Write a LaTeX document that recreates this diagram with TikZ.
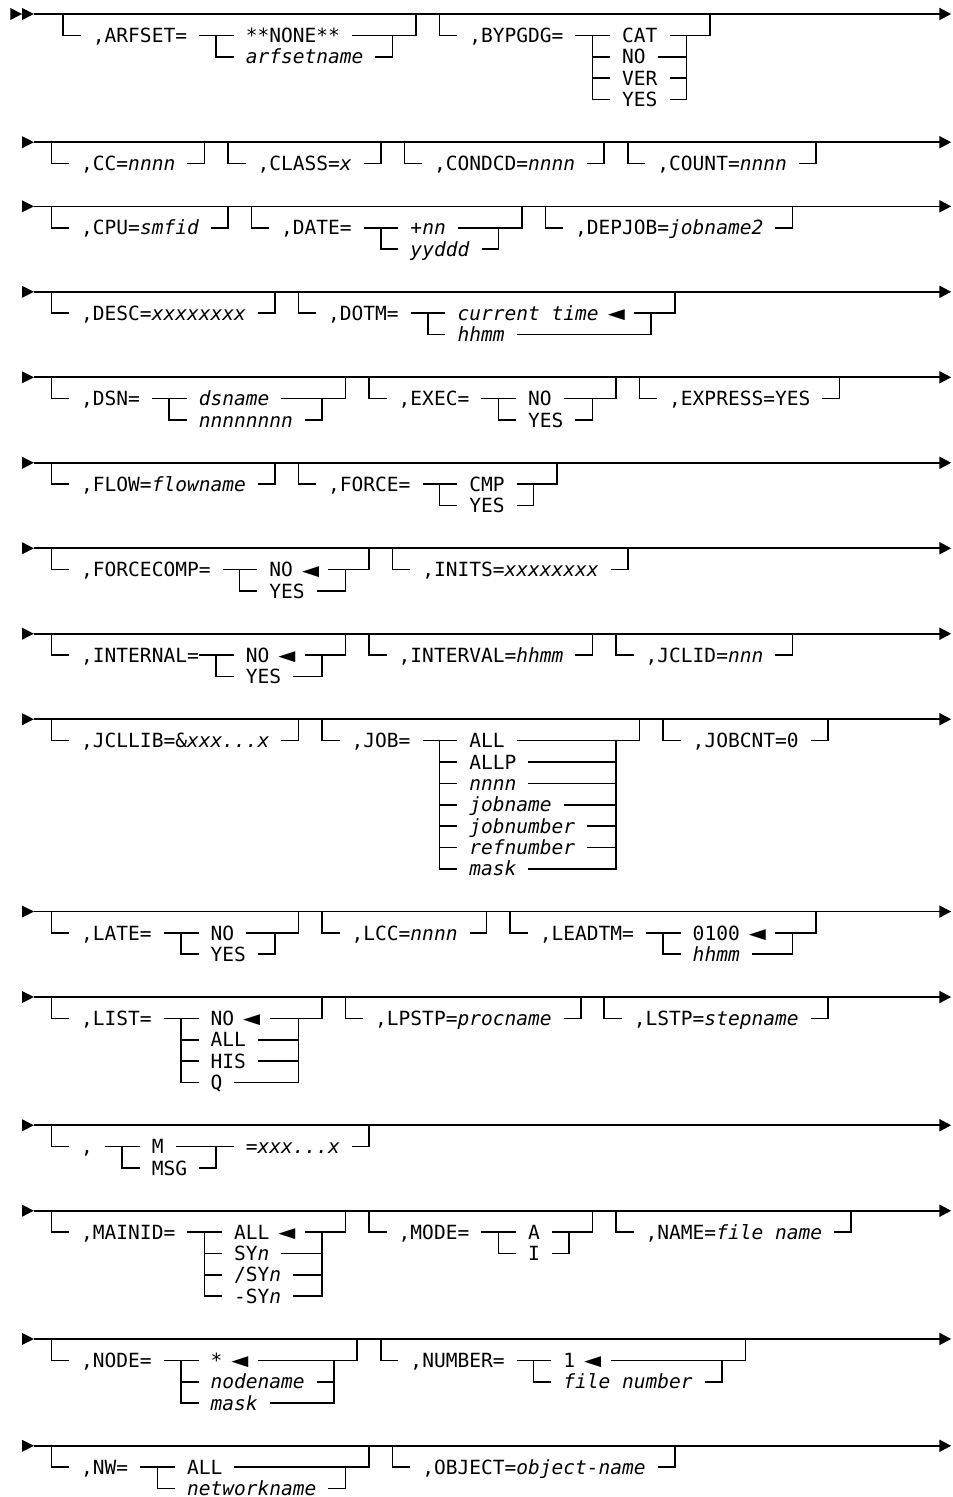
\documentclass[tikz,border=0pt]{standalone}
\usepackage{fontspec}
\usepackage{graphicx}
\usepackage{tikz}
\usetikzlibrary{arrows.meta}
\newfontfamily\railfont{DejaVu Sans Mono}[ItalicFont={DejaVu Sans Mono Oblique}]
\newcommand{\defmark}{\makebox[0.602em]{\raisebox{-0.12em}{\scalebox{1.45}{◄}}}}

\begin{document}
\begin{tikzpicture}[
  x=0.294cm, y=-0.53425cm,
  every node/.style={
    anchor=west,
    font=\railfont\fontsize{13.894pt}{16pt}\selectfont,
    inner xsep=0.294cm,
    inner ysep=0pt,
    text height=10.13pt,
    text depth=0pt
  },
  rail/.style={line width=0.04cm},
  mainline/.style={line width=0.04cm, -{Triangle[length=0.294cm,width=0.3cm]}}
]
\useasboundingbox (-2.381,-0.655) rectangle (78.571,69.396);

% ARFSET / BYPGDG
\coordinate (l0s) at (0.5,0);  \coordinate (l0e) at (78.5,0);
\coordinate (arf-in) at (3,0);  \coordinate (arf-out) at (33,0);
\coordinate (arf-l) at (16,1);  \coordinate (arf-r) at (31,1);
\coordinate (byp-in) at (35,0); \coordinate (byp-out) at (58,0);
\coordinate (byp-l) at (48,1);  \coordinate (byp-r) at (56,1);

\node (arfset) at (4.5,1) {,ARFSET=};
\node (arfnone) at (17.5,1) {**NONE**};
\node (arfname) at (17.5,2) {\textit{arfsetname}};
\node (bypgdg) at (36.5,1) {,BYPGDG=};
\node (bypcat) at (49.5,1) {CAT};
\node (bypno) at (49.5,2) {NO};
\node (bypver) at (49.5,3) {VER};
\node (bypyes) at (49.5,4) {YES};

\fill (l0s) -- ++(-1,-0.28) -- ++(0,0.56) -- cycle;
\fill ([xshift=-0.294cm]l0s) -- ++(-1,-0.28) -- ++(0,0.56) -- cycle;
\draw[mainline] (l0s) -- (l0e);
\draw[rail] (arf-in) |- (arfset.west) (arfset.east) -- (arfnone.west) (arfnone.east) -| (arf-out);
\draw[rail] (arf-l) |- (arfname.west) (arfname.east) -| (arf-r);
\draw[rail] (byp-in) |- (bypgdg.west) (bypgdg.east) -- (bypcat.west) (bypcat.east) -| (byp-out);
\draw[rail] (byp-l) |- (bypno.west) (bypno.east) -| (byp-r);
\draw[rail] (byp-l) |- (bypver.west) (bypver.east) -| (byp-r);
\draw[rail] (byp-l) |- (bypyes.west) (bypyes.east) -| (byp-r);

% CC / CLASS / CONDCD / COUNT
\coordinate (l6s) at (0.5,6);  \coordinate (l6e) at (78.5,6);
\coordinate (cc-in) at (2,6);  \coordinate (cc-out) at (15,6);
\coordinate (class-in) at (17,6);  \coordinate (class-out) at (30,6);
\coordinate (cond-in) at (32,6);  \coordinate (cond-out) at (49,6);
\coordinate (count-in) at (51,6);  \coordinate (count-out) at (67,6);

\node (cc) at (3.5,7) {,CC=\textit{nnnn}};
\node (class) at (18.5,7) {,CLASS=\textit{x}};
\node (condcd) at (33.5,7) {,CONDCD=\textit{nnnn}};
\node (count) at (52.5,7) {,COUNT=\textit{nnnn}};

\fill (l6s) -- ++(-1,-0.28) -- ++(0,0.56) -- cycle;
\draw[mainline] (l6s) -- (l6e);
\draw[rail] (cc-in) |- (cc.west) (cc.east) -| (cc-out);
\draw[rail] (class-in) |- (class.west) (class.east) -| (class-out);
\draw[rail] (cond-in) |- (condcd.west) (condcd.east) -| (cond-out);
\draw[rail] (count-in) |- (count.west) (count.east) -| (count-out);

% CPU / DATE / DEPJOB
\coordinate (l9s) at (0.5,9);  \coordinate (l9e) at (78.5,9);
\coordinate (cpu-in) at (2,9);  \coordinate (cpu-out) at (17,9);
\coordinate (date-in) at (19,9);  \coordinate (date-out) at (42,9);
\coordinate (date-l) at (30,10);  \coordinate (date-r) at (40,10);
\coordinate (dep-in) at (44,9);  \coordinate (dep-out) at (65,9);

\node (cpu) at (3.5,10) {,CPU=\textit{smfid}};
\node (date) at (20.5,10) {,DATE=};
\node (datenn) at (31.5,10) {\textit{+nn}};
\node (dateyy) at (31.5,11) {\textit{yyddd}};
\node (depjob) at (45.5,10) {,DEPJOB=\textit{jobname2}};

\fill (l9s) -- ++(-1,-0.28) -- ++(0,0.56) -- cycle;
\draw[mainline] (l9s) -- (l9e);
\draw[rail] (cpu-in) |- (cpu.west) (cpu.east) -| (cpu-out);
\draw[rail] (date-in) |- (date.west) (date.east) -- (datenn.west) (datenn.east) -| (date-out);
\draw[rail] (date-l) |- (dateyy.west) (dateyy.east) -| (date-r);
\draw[rail] (dep-in) |- (depjob.west) (depjob.east) -| (dep-out);

% DESC / DOTM
\coordinate (l13s) at (0.5,13);  \coordinate (l13e) at (78.5,13);
\coordinate (desc-in) at (2,13);  \coordinate (desc-out) at (21,13);
\coordinate (dotm-in) at (23,13);  \coordinate (dotm-out) at (55,13);
\coordinate (dotm-l) at (34,14);  \coordinate (dotm-r) at (53,14);

\node (desc) at (3.5,14) {,DESC=\textit{xxxxxxxx}};
\node (dotm) at (24.5,14) {,DOTM=};
\node (dotmcur) at (35.5,14) {\textit{current time} \defmark};
\node (dotmhh) at (35.5,15) {\textit{hhmm}};

\fill (l13s) -- ++(-1,-0.28) -- ++(0,0.56) -- cycle;
\draw[mainline] (l13s) -- (l13e);
\draw[rail] (desc-in) |- (desc.west) (desc.east) -| (desc-out);
\draw[rail] (dotm-in) |- (dotm.west) (dotm.east) -- (dotmcur.west) (dotmcur.east) -| (dotm-out);
\draw[rail] (dotm-l) |- (dotmhh.west) (dotmhh.east) -| (dotm-r);

% DSN / EXEC / EXPRESS
\coordinate (l17s) at (0.5,17);  \coordinate (l17e) at (78.5,17);
\coordinate (dsn-in) at (2,17);  \coordinate (dsn-out) at (27,17);
\coordinate (dsn-l) at (12,18);  \coordinate (dsn-r) at (25,18);
\coordinate (exec-in) at (29,17);  \coordinate (exec-out) at (50,17);
\coordinate (exec-l) at (40,18);  \coordinate (exec-r) at (48,18);
\coordinate (expr-in) at (52,17);  \coordinate (expr-out) at (69,17);

\node (dsn) at (3.5,18) {,DSN=};
\node (dsnname) at (13.5,18) {\textit{dsname}};
\node (dsnnum) at (13.5,19) {\textit{nnnnnnnn}};
\node (exec) at (30.5,18) {,EXEC=};
\node (execno) at (41.5,18) {NO};
\node (execyes) at (41.5,19) {YES};
\node (express) at (53.5,18) {,EXPRESS=YES};

\fill (l17s) -- ++(-1,-0.28) -- ++(0,0.56) -- cycle;
\draw[mainline] (l17s) -- (l17e);
\draw[rail] (dsn-in) |- (dsn.west) (dsn.east) -- (dsnname.west) (dsnname.east) -| (dsn-out);
\draw[rail] (dsn-l) |- (dsnnum.west) (dsnnum.east) -| (dsn-r);
\draw[rail] (exec-in) |- (exec.west) (exec.east) -- (execno.west) (execno.east) -| (exec-out);
\draw[rail] (exec-l) |- (execyes.west) (execyes.east) -| (exec-r);
\draw[rail] (expr-in) |- (express.west) (express.east) -| (expr-out);

% FLOW / FORCE
\coordinate (l21s) at (0.5,21);  \coordinate (l21e) at (78.5,21);
\coordinate (flow-in) at (2,21);  \coordinate (flow-out) at (21,21);
\coordinate (force-in) at (23,21);  \coordinate (force-out) at (45,21);
\coordinate (force-l) at (35,22);  \coordinate (force-r) at (43,22);

\node (flow) at (3.5,22) {,FLOW=\textit{flowname}};
\node (force) at (24.5,22) {,FORCE=};
\node (forcecmp) at (36.5,22) {CMP};
\node (forceyes) at (36.5,23) {YES};

\fill (l21s) -- ++(-1,-0.28) -- ++(0,0.56) -- cycle;
\draw[mainline] (l21s) -- (l21e);
\draw[rail] (flow-in) |- (flow.west) (flow.east) -| (flow-out);
\draw[rail] (force-in) |- (force.west) (force.east) -- (forcecmp.west) (forcecmp.east) -| (force-out);
\draw[rail] (force-l) |- (forceyes.west) (forceyes.east) -| (force-r);

% FORCECOMP / INITS
\coordinate (l25s) at (0.5,25);  \coordinate (l25e) at (78.5,25);
\coordinate (fcomp-in) at (2,25);  \coordinate (fcomp-out) at (29,25);
\coordinate (fcomp-l) at (18,26);  \coordinate (fcomp-r) at (27,26);
\coordinate (inits-in) at (31,25);  \coordinate (inits-out) at (51,25);

\node (fcomp) at (3.5,26) {,FORCECOMP=};
\node (fcompno) at (19.5,26) {NO \defmark};
\node (fcompyes) at (19.5,27) {YES};
\node (inits) at (32.5,26) {,INITS=\textit{xxxxxxxx}};

\fill (l25s) -- ++(-1,-0.28) -- ++(0,0.56) -- cycle;
\draw[mainline] (l25s) -- (l25e);
\draw[rail] (fcomp-in) |- (fcomp.west) (fcomp.east) -- (fcompno.west) (fcompno.east) -| (fcomp-out);
\draw[rail] (fcomp-l) |- (fcompyes.west) (fcompyes.east) -| (fcomp-r);
\draw[rail] (inits-in) |- (inits.west) (inits.east) -| (inits-out);

% INTERNAL / INTERVAL / JCLID
\coordinate (l29s) at (0.5,29);  \coordinate (l29e) at (78.5,29);
\coordinate (int-in) at (2,29);  \coordinate (int-out) at (27,29);
\coordinate (int-l) at (16,30);  \coordinate (int-r) at (25,30);
\coordinate (ival-in) at (29,29);  \coordinate (ival-out) at (48,29);
\coordinate (jclid-in) at (50,29);  \coordinate (jclid-out) at (65,29);

\node (internal) at (3.5,30) {,INTERNAL=};
\node (intno) at (17.5,30) {NO \defmark};
\node (intyes) at (17.5,31) {YES};
\node (interval) at (30.5,30) {,INTERVAL=\textit{hhmm}};
\node (jclid) at (51.5,30) {,JCLID=\textit{nnn}};

\fill (l29s) -- ++(-1,-0.28) -- ++(0,0.56) -- cycle;
\draw[mainline] (l29s) -- (l29e);
\draw[rail] (int-in) |- (internal.west) ([xshift=-0.294cm]internal.east) -- (intno.west) (intno.east) -| (int-out);
\draw[rail] (int-l) |- (intyes.west) (intyes.east) -| (int-r);
\draw[rail] (ival-in) |- (interval.west) (interval.east) -| (ival-out);
\draw[rail] (jclid-in) |- (jclid.west) (jclid.east) -| (jclid-out);

% JCLLIB / JOB / JOBCNT
\coordinate (l33s) at (0.5,33);  \coordinate (l33e) at (78.5,33);
\coordinate (jcllib-in) at (2,33);  \coordinate (jcllib-out) at (23,33);
\coordinate (job-in) at (25,33);  \coordinate (job-out) at (52,33);
\coordinate (job-l) at (35,34);  \coordinate (job-r) at (50,34);
\coordinate (jobcnt-in) at (54,33);  \coordinate (jobcnt-out) at (68,33);

\node (jcllib) at (3.5,34) {,JCLLIB=\&\textit{xxx...x}};
\node (job) at (26.5,34) {,JOB=};
\node (joball) at (36.5,34) {ALL};
\node (joballp) at (36.5,35) {ALLP};
\node (jobnnnn) at (36.5,36) {\textit{nnnn}};
\node (jobname) at (36.5,37) {\textit{jobname}};
\node (jobnum) at (36.5,38) {\textit{jobnumber}};
\node (jobref) at (36.5,39) {\textit{refnumber}};
\node (jobmask) at (36.5,40) {\textit{mask}};
\node (jobcnt) at (55.5,34) {,JOBCNT=0};

\fill (l33s) -- ++(-1,-0.28) -- ++(0,0.56) -- cycle;
\draw[mainline] (l33s) -- (l33e);
\draw[rail] (jcllib-in) |- (jcllib.west) (jcllib.east) -| (jcllib-out);
\draw[rail] (job-in) |- (job.west) (job.east) -- (joball.west) (joball.east) -| (job-out);
\draw[rail] (job-l) |- (joballp.west) (joballp.east) -| (job-r);
\draw[rail] (job-l) |- (jobnnnn.west) (jobnnnn.east) -| (job-r);
\draw[rail] (job-l) |- (jobname.west) (jobname.east) -| (job-r);
\draw[rail] (job-l) |- (jobnum.west) (jobnum.east) -| (job-r);
\draw[rail] (job-l) |- (jobref.west) (jobref.east) -| (job-r);
\draw[rail] (job-l) |- (jobmask.west) (jobmask.east) -| (job-r);
\draw[rail] (jobcnt-in) |- (jobcnt.west) (jobcnt.east) -| (jobcnt-out);

% LATE / LCC / LEADTM
\coordinate (l42s) at (0.5,42);  \coordinate (l42e) at (78.5,42);
\coordinate (late-in) at (2,42);  \coordinate (late-out) at (23,42);
\coordinate (late-l) at (13,43);  \coordinate (late-r) at (21,43);
\coordinate (lcc-in) at (25,42);  \coordinate (lcc-out) at (39,42);
\coordinate (lead-in) at (41,42);  \coordinate (lead-out) at (67,42);
\coordinate (lead-l) at (54,43);  \coordinate (lead-r) at (65,43);

\node (late) at (3.5,43) {,LATE=};
\node (lateno) at (14.5,43) {NO};
\node (lateyes) at (14.5,44) {YES};
\node (lcc) at (26.5,43) {,LCC=\textit{nnnn}};
\node (leadtm) at (42.5,43) {,LEADTM=};
\node (leaddef) at (55.5,43) {0100 \defmark};
\node (leadhh) at (55.5,44) {\textit{hhmm}};

\fill (l42s) -- ++(-1,-0.28) -- ++(0,0.56) -- cycle;
\draw[mainline] (l42s) -- (l42e);
\draw[rail] (late-in) |- (late.west) (late.east) -- (lateno.west) (lateno.east) -| (late-out);
\draw[rail] (late-l) |- (lateyes.west) (lateyes.east) -| (late-r);
\draw[rail] (lcc-in) |- (lcc.west) (lcc.east) -| (lcc-out);
\draw[rail] (lead-in) |- (leadtm.west) (leadtm.east) -- (leaddef.west) (leaddef.east) -| (lead-out);
\draw[rail] (lead-l) |- (leadhh.west) (leadhh.east) -| (lead-r);

% LIST / LPSTP / LSTP
\coordinate (l46s) at (0.5,46);  \coordinate (l46e) at (78.5,46);
\coordinate (list-in) at (2,46);  \coordinate (list-out) at (25,46);
\coordinate (list-l) at (13,47);  \coordinate (list-r) at (23,47);
\coordinate (lpstp-in) at (27,46);  \coordinate (lpstp-out) at (47,46);
\coordinate (lstp-in) at (49,46);  \coordinate (lstp-out) at (68,46);

\node (list) at (3.5,47) {,LIST=};
\node (listno) at (14.5,47) {NO \defmark};
\node (listall) at (14.5,48) {ALL};
\node (listhis) at (14.5,49) {HIS};
\node (listq) at (14.5,50) {Q};
\node (lpstp) at (28.5,47) {,LPSTP=\textit{procname}};
\node (lstp) at (50.5,47) {,LSTP=\textit{stepname}};

\fill (l46s) -- ++(-1,-0.28) -- ++(0,0.56) -- cycle;
\draw[mainline] (l46s) -- (l46e);
\draw[rail] (list-in) |- (list.west) (list.east) -- (listno.west) (listno.east) -| (list-out);
\draw[rail] (list-l) |- (listall.west) (listall.east) -| (list-r);
\draw[rail] (list-l) |- (listhis.west) (listhis.east) -| (list-r);
\draw[rail] (list-l) |- (listq.west) (listq.east) -| (list-r);
\draw[rail] (lpstp-in) |- (lpstp.west) (lpstp.east) -| (lpstp-out);
\draw[rail] (lstp-in) |- (lstp.west) (lstp.east) -| (lstp-out);

% M / MSG
\coordinate (l52s) at (0.5,52);  \coordinate (l52e) at (78.5,52);
\coordinate (msg-in) at (2,52);  \coordinate (msg-out) at (29,52);
\coordinate (msg-l) at (8,53);  \coordinate (msg-r) at (16,53);

\node (msgcomma) at (3.5,53) {,};
\node (msgm) at (9.5,53) {M};
\node (msgmsg) at (9.5,54) {MSG};
\node (msgval) at (17.5,53) {=\textit{xxx...x}};

\fill (l52s) -- ++(-1,-0.28) -- ++(0,0.56) -- cycle;
\draw[mainline] (l52s) -- (l52e);
\draw[rail] (msg-in) |- (msgcomma.west) (msgcomma.east) -- (msgm.west) (msgm.east) -- (msgval.west) (msgval.east) -| (msg-out);
\draw[rail] (msg-l) |- (msgmsg.west) (msgmsg.east) -| (msg-r);

% MAINID / MODE / NAME
\coordinate (l56s) at (0.5,56);  \coordinate (l56e) at (78.5,56);
\coordinate (main-in) at (2,56);  \coordinate (main-out) at (27,56);
\coordinate (main-l) at (15,57);  \coordinate (main-r) at (25,57);
\coordinate (mode-in) at (29,56);  \coordinate (mode-out) at (48,56);
\coordinate (mode-l) at (40,57);  \coordinate (mode-r) at (46,57);
\coordinate (fname-in) at (50,56);  \coordinate (fname-out) at (70,56);

\node (mainid) at (3.5,57) {,MAINID=};
\node (mainall) at (16.5,57) {ALL \defmark};
\node (mainsy) at (16.5,58) {SY\textit{n}};
\node (mainslash) at (16.5,59) {/SY\textit{n}};
\node (maindash) at (16.5,60) {-SY\textit{n}};
\node (mode) at (30.5,57) {,MODE=};
\node (modea) at (41.5,57) {A};
\node (modei) at (41.5,58) {I};
\node (fname) at (51.5,57) {,NAME=\textit{file name}};

\fill (l56s) -- ++(-1,-0.28) -- ++(0,0.56) -- cycle;
\draw[mainline] (l56s) -- (l56e);
\draw[rail] (main-in) |- (mainid.west) (mainid.east) -- (mainall.west) (mainall.east) -| (main-out);
\draw[rail] (main-l) |- (mainsy.west) (mainsy.east) -| (main-r);
\draw[rail] (main-l) |- (mainslash.west) (mainslash.east) -| (main-r);
\draw[rail] (main-l) |- (maindash.west) (maindash.east) -| (main-r);
\draw[rail] (mode-in) |- (mode.west) (mode.east) -- (modea.west) (modea.east) -| (mode-out);
\draw[rail] (mode-l) |- (modei.west) (modei.east) -| (mode-r);
\draw[rail] (fname-in) |- (fname.west) (fname.east) -| (fname-out);

% NODE / NUMBER
\coordinate (l62s) at (0.5,62);  \coordinate (l62e) at (78.5,62);
\coordinate (node-in) at (2,62);  \coordinate (node-out) at (28,62);
\coordinate (node-l) at (13,63);  \coordinate (node-r) at (26,63);
\coordinate (num-in) at (30,62);  \coordinate (num-out) at (61,62);
\coordinate (num-l) at (43,63);  \coordinate (num-r) at (59,63);

\node (nodekw) at (3.5,63) {,NODE=};
\node (nodestar) at (14.5,63) {* \defmark};
\node (nodename) at (14.5,64) {\textit{nodename}};
\node (nodemask) at (14.5,65) {\textit{mask}};
\node (number) at (31.5,63) {,NUMBER=};
\node (numone) at (44.5,63) {1 \defmark};
\node (numfile) at (44.5,64) {\textit{file number}};

\fill (l62s) -- ++(-1,-0.28) -- ++(0,0.56) -- cycle;
\draw[mainline] (l62s) -- (l62e);
\draw[rail] (node-in) |- (nodekw.west) (nodekw.east) -- (nodestar.west) (nodestar.east) -| (node-out);
\draw[rail] (node-l) |- (nodename.west) (nodename.east) -| (node-r);
\draw[rail] (node-l) |- (nodemask.west) (nodemask.east) -| (node-r);
\draw[rail] (num-in) |- (number.west) (number.east) -- (numone.west) (numone.east) -| (num-out);
\draw[rail] (num-l) |- (numfile.west) (numfile.east) -| (num-r);

% NW / OBJECT
\coordinate (l67s) at (0.5,67);  \coordinate (l67e) at (78.5,67);
\coordinate (nw-in) at (2,67);  \coordinate (nw-out) at (29,67);
\coordinate (nw-l) at (11,68);  \coordinate (nw-r) at (27,68);
\coordinate (obj-in) at (31,67);  \coordinate (obj-out) at (55,67);

\node (nw) at (3.5,68) {,NW=};
\node (nwall) at (12.5,68) {ALL};
\node (nwname) at (12.5,69) {\textit{networkname}};
\node (object) at (32.5,68) {,OBJECT=\textit{object-name}};

\fill (l67s) -- ++(-1,-0.28) -- ++(0,0.56) -- cycle;
\draw[mainline] (l67s) -- (l67e);
\draw[rail] (nw-in) |- (nw.west) (nw.east) -- (nwall.west) (nwall.east) -| (nw-out);
\draw[rail] (nw-l) |- (nwname.west) (nwname.east) -| (nw-r);
\draw[rail] (obj-in) |- (object.west) (object.east) -| (obj-out);

\end{tikzpicture}
\end{document}
